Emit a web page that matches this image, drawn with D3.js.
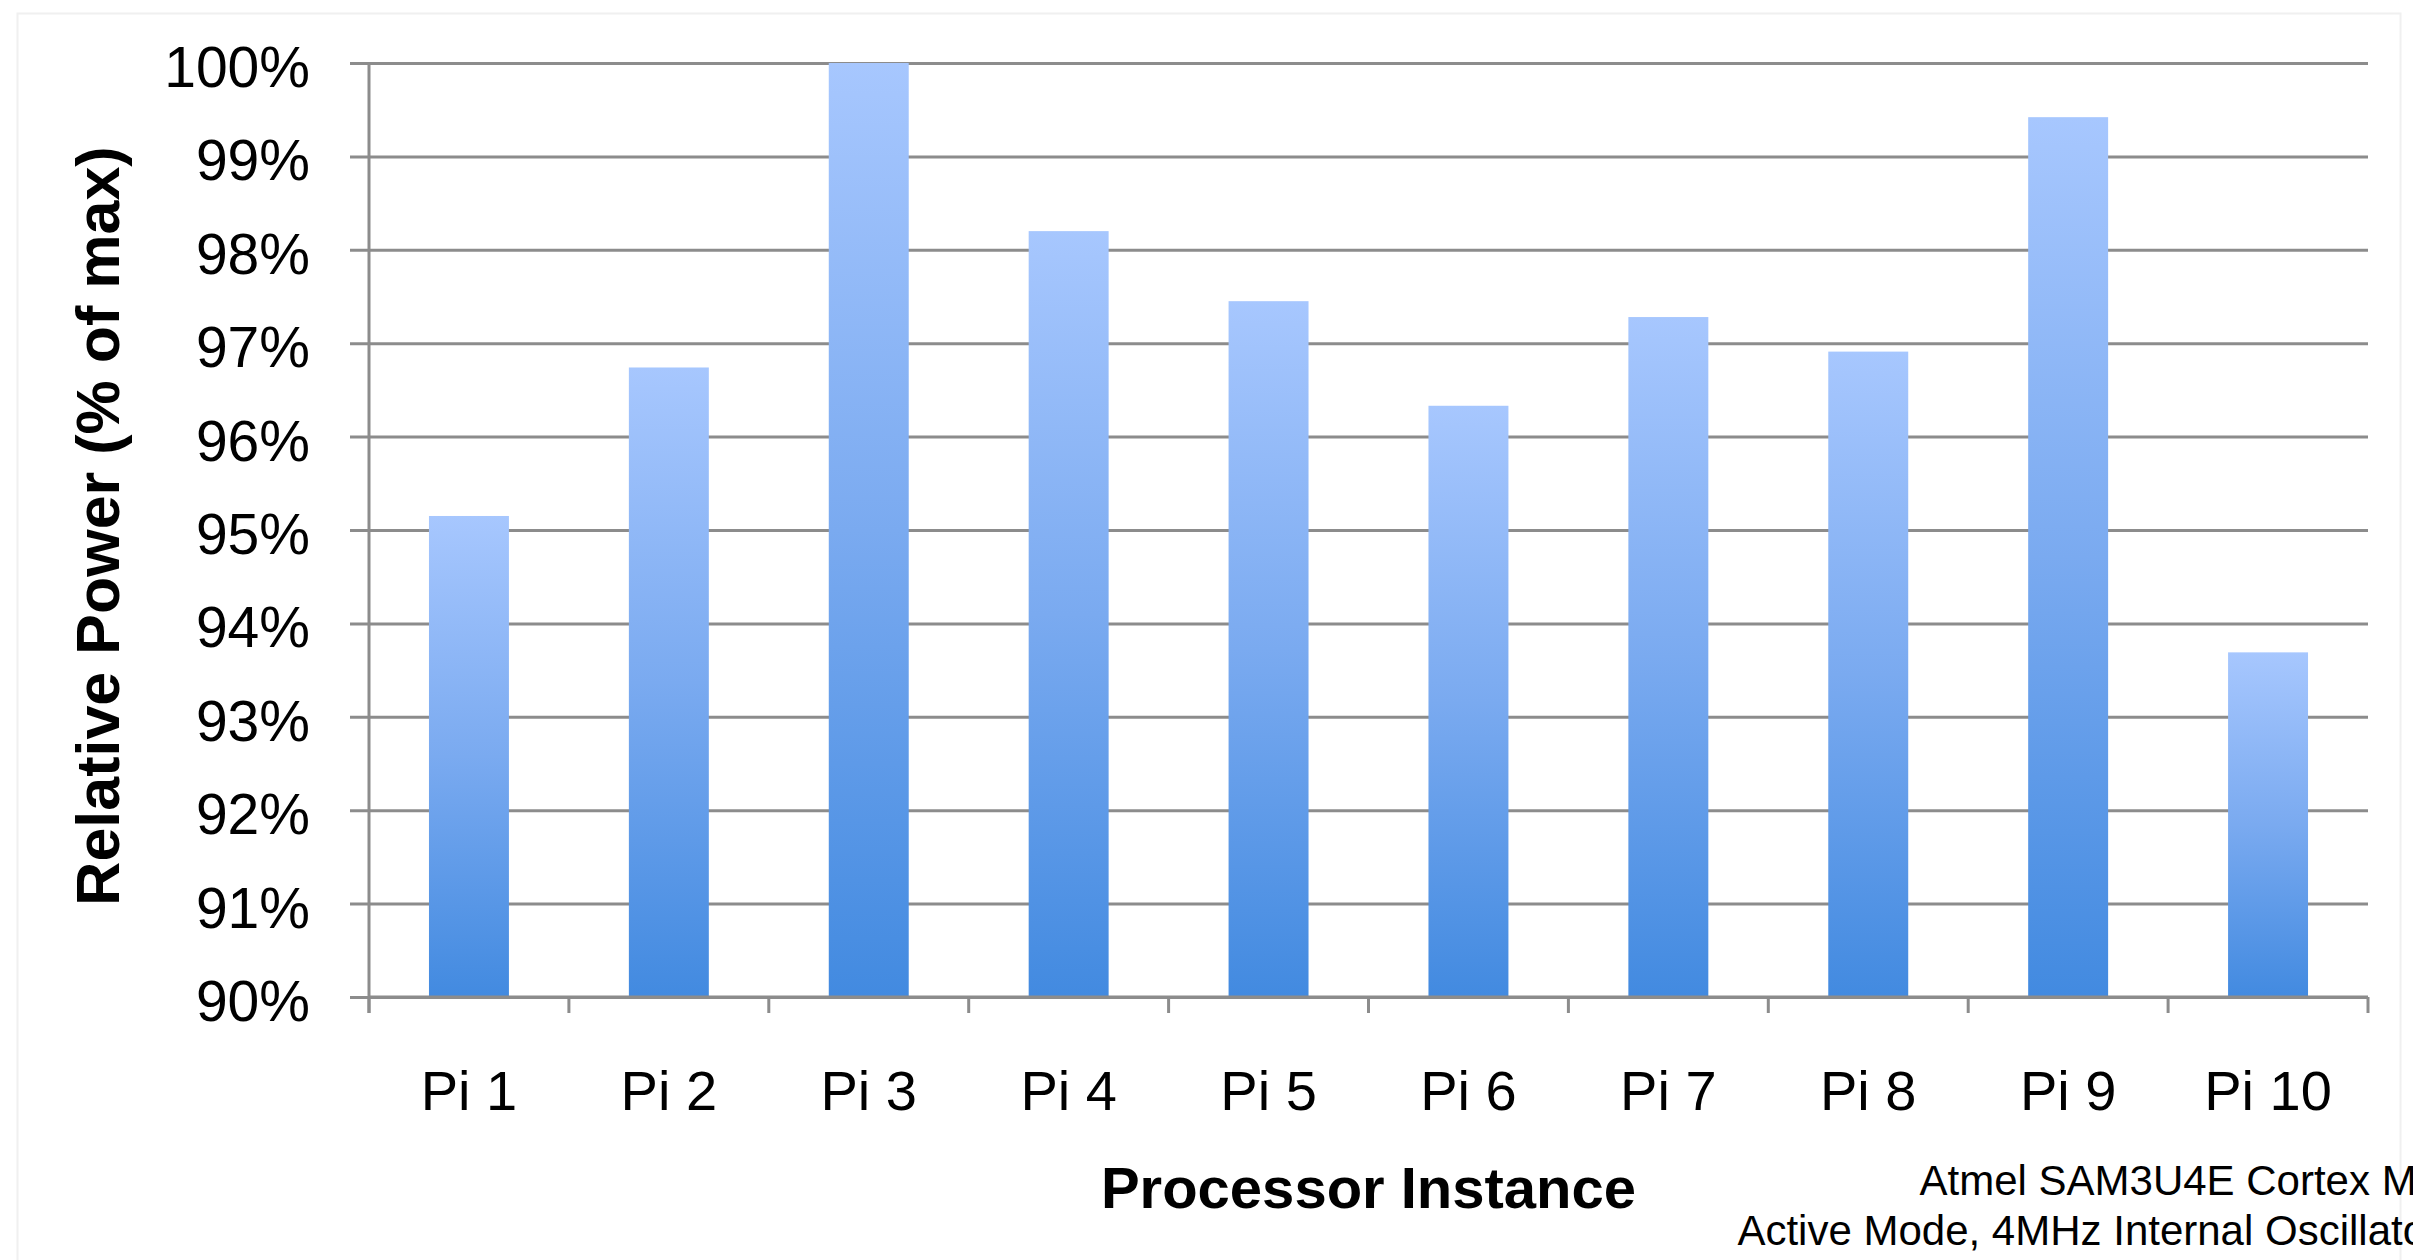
<!DOCTYPE html>
<html>
<head>
<meta charset="utf-8">
<script src="https://cdn.jsdelivr.net/npm/d3@7"></script>
<style>
  html, body { margin: 0; padding: 0; background: #ffffff; }
  svg { display: block; }
  text { font-family: "Liberation Sans", Arial, Helvetica, sans-serif; fill: #000; }
</style>
</head>
<body>
<script>
// ---- data ----
const categories = ["Pi 1", "Pi 2", "Pi 3", "Pi 4", "Pi 5", "Pi 6", "Pi 7", "Pi 8", "Pi 9", "Pi 10"];
const relativePower = [95.15, 96.74, 100.0, 98.20, 97.45, 96.33, 97.28, 96.91, 99.42, 93.69];
const yTickValues = [90, 91, 92, 93, 94, 95, 96, 97, 98, 99, 100];
const yTickLabels = ["90%", "91%", "92%", "93%", "94%", "95%", "96%", "97%", "98%", "99%", "100%"];
const xTitle = "Processor Instance";
const yTitle = "Relative Power (% of max)";
const noteLines = ["Atmel SAM3U4E Cortex M3", "Active Mode, 4MHz Internal Oscillator"];

// ---- layout ----
const W = 2413, H = 1260;
const plot = { left: 369, right: 2368, top: 63, bottom: 997 };

const svg = d3.select("body").append("svg")
  .attr("width", W).attr("height", H);

// faint outer frame
svg.append("rect")
  .attr("x", 17.5).attr("y", 13.5)
  .attr("width", 2383).attr("height", 1260)
  .attr("fill", "none").attr("stroke", "#f0f0f0").attr("stroke-width", 2);

const x = d3.scaleBand()
  .domain(categories)
  .range([plot.left, plot.right])
  .paddingInner(0.6)
  .paddingOuter(0.3);

const y = d3.scaleLinear()
  .domain([90, 100])
  .range([plot.bottom, plot.top]);

// gradient for bars
const defs = svg.append("defs");
const grad = defs.append("linearGradient")
  .attr("id", "barGrad")
  .attr("x1", 0).attr("y1", 0).attr("x2", 0).attr("y2", 1);
grad.append("stop").attr("offset", "0%").attr("stop-color", "#a7c7fe");
grad.append("stop").attr("offset", "50%").attr("stop-color", "#7aaaf0");
grad.append("stop").attr("offset", "100%").attr("stop-color", "#428ae0");

// gridlines via d3 axis
const gy = svg.append("g")
  .attr("transform", `translate(${plot.right},0)`)
  .call(d3.axisLeft(y).tickValues(yTickValues).tickSize(plot.right - plot.left + 19).tickFormat(""));
gy.select(".domain").remove();
gy.selectAll(".tick line").attr("stroke", "#8c8c8c").attr("stroke-width", 3);

// y tick labels
svg.append("g").selectAll("text")
  .data(yTickValues)
  .join("text")
  .attr("x", 310)
  .attr("y", d => y(d) + 24)
  .attr("text-anchor", "end")
  .attr("font-size", 57)
  .text((d, i) => yTickLabels[i]);

// bars
svg.append("g").selectAll("rect")
  .data(relativePower)
  .join("rect")
  .attr("x", (d, i) => x(categories[i]))
  .attr("y", d => y(d))
  .attr("width", x.bandwidth())
  .attr("height", d => y(90) - y(d))
  .attr("fill", "url(#barGrad)");

// y axis line
svg.append("line")
  .attr("x1", plot.left).attr("x2", plot.left)
  .attr("y1", plot.top).attr("y2", plot.bottom + 16)
  .attr("stroke", "#8c8c8c").attr("stroke-width", 3);

// x axis line
svg.append("line")
  .attr("x1", plot.left).attr("x2", plot.right)
  .attr("y1", plot.bottom).attr("y2", plot.bottom)
  .attr("stroke", "#8c8c8c").attr("stroke-width", 3);

// x ticks at band boundaries
const step = x.step();
const boundaries = categories.map(c => x(c) - (step - x.bandwidth()) / 2).concat([plot.right]);
svg.append("g").selectAll("line")
  .data(boundaries)
  .join("line")
  .attr("x1", d => d).attr("x2", d => d)
  .attr("y1", plot.bottom).attr("y2", plot.bottom + 16)
  .attr("stroke", "#8c8c8c").attr("stroke-width", 3);

// x tick labels
svg.append("g").selectAll("text")
  .data(categories)
  .join("text")
  .attr("x", d => x(d) + x.bandwidth() / 2)
  .attr("y", 1110)
  .attr("text-anchor", "middle")
  .attr("font-size", 56)
  .text(d => d);

// axis titles
svg.append("text")
  .attr("x", (plot.left + plot.right) / 2)
  .attr("y", 1208)
  .attr("text-anchor", "middle")
  .attr("font-size", 58)
  .attr("font-weight", "bold")
  .text(xTitle);

svg.append("text")
  .attr("transform", `translate(119,${(plot.top + plot.bottom) / 2 - 4}) rotate(-90)`)
  .attr("text-anchor", "middle")
  .attr("font-size", 61)
  .attr("font-weight", "bold")
  .text(yTitle);

// note (right-aligned, running off the right edge as in the reference)
svg.append("g").selectAll("text")
  .data(noteLines)
  .join("text")
  .attr("x", 2440)
  .attr("y", (d, i) => 1195 + i * 50)
  .attr("text-anchor", "end")
  .attr("font-size", 42)
  .text(d => d);
</script>
</body>
</html>
